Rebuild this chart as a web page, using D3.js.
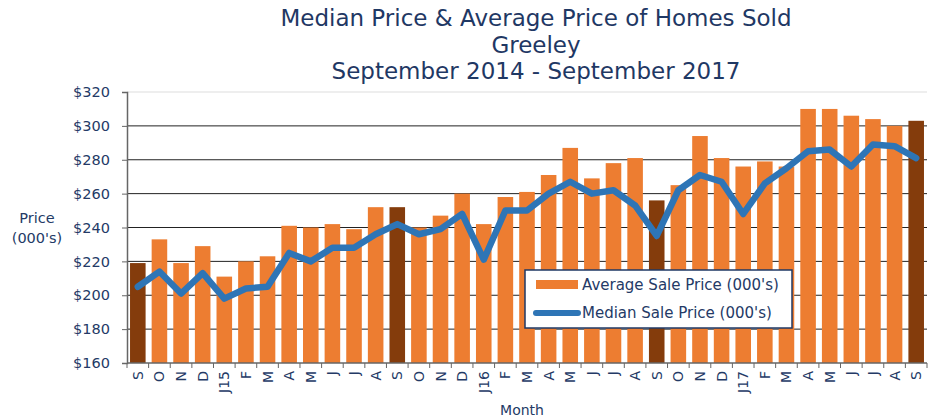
<!DOCTYPE html>
<html>
<head>
<meta charset="utf-8">
<style>
  body { margin: 0; background: #fff; }
  text { font-family: Verdana, "DejaVu Sans", sans-serif; fill: #243a66; }
</style>
</head>
<body>
<svg width="939" height="419"></svg>
<script src="https://d3js.org/d3.v7.min.js"></script>
<script>
// month labels, Sep 2014 .. Sep 2017
const months = ['S','O','N','D','J15','F','M','A','M','J','J','A',
                'S','O','N','D','J16','F','M','A','M','J','J','A',
                'S','O','N','D','J17','F','M','A','M','J','J','A','S'];
// average sale price (000's)
const avgPrice = [219,233,219,229,211,220,223,241,240,242,239,252,
                  252,240,247,260,242,258,261,271,287,269,278,281,
                  256,265,294,281,276,279,276,310,310,306,304,300,303];
// median sale price (000's)
const medPrice = [205,214,201,213,198,204,205,225,220,228,228,236,
                  242,236,239,248,221,250,250,260,267,260,262,253,
                  235,262,271,267,248,266,275,285,286,276,289,288,281];
const yTicks = [160,180,200,220,240,260,280,300,320];
const titleLines = ['Median Price & Average Price of Homes Sold', 'Greeley', 'September 2014 - September 2017'];

const margin = {top: 92, right: 12, bottom: 56, left: 127};
const width = 939 - margin.left - margin.right;
const height = 419 - margin.top - margin.bottom;

const svg = d3.select('svg');
const idx = months.map((d, i) => i);
const x = d3.scaleBand().domain(idx).range([0, width]).paddingInner(0.28).paddingOuter(0.14);
const y = d3.scaleLinear().domain([160, 320]).range([height, 0]);

const chart = svg.append('g').attr('transform', 'translate(' + margin.left + ',' + margin.top + ')');

// gridlines
chart.selectAll('.grid').data(yTicks.slice(1)).enter()
  .append('line')
  .attr('x1', 0).attr('x2', width)
  .attr('y1', d => y(d)).attr('y2', d => y(d))
  .attr('stroke', d => d === 320 ? '#ddd' : '#222')
  .attr('stroke-width', 1);

// bars
chart.selectAll('.bar').data(avgPrice).enter()
  .append('rect')
  .attr('x', (d, i) => x(i))
  .attr('width', x.bandwidth())
  .attr('y', d => y(d))
  .attr('height', d => height - y(d))
  .attr('fill', (d, i) => months[i] === 'S' ? '#843c0c' : '#ed7d31');

// median line
const line = d3.line().x((d, i) => x(i) + x.bandwidth() / 2).y(d => y(d));
chart.append('path').datum(medPrice)
  .attr('fill', 'none')
  .attr('stroke', '#2e75b6')
  .attr('stroke-width', 6.5)
  .attr('stroke-linejoin', 'round')
  .attr('stroke-linecap', 'round')
  .attr('d', line);

// y axis
const yAxis = chart.append('g').call(d3.axisLeft(y).tickValues(yTicks).tickFormat(d => '$' + d).tickSize(5).tickPadding(12));
yAxis.select('.domain').attr('stroke', '#666').attr('stroke-width', 1.5);
yAxis.selectAll('.tick line').attr('stroke', '#666');
yAxis.selectAll('text').attr('font-size', 14.5).style('fill', '#243a66');

// x axis
const xg = chart.append('g').attr('transform', 'translate(0,' + height + ')');
xg.append('line').attr('x1', 0).attr('x2', width).attr('stroke', '#666').attr('stroke-width', 1.5);
const step = x.step();
xg.selectAll('.xt').data(d3.range(months.length + 1)).enter()
  .append('line')
  .attr('x1', i => i * width / months.length)
  .attr('x2', i => i * width / months.length)
  .attr('y1', 0).attr('y2', 5)
  .attr('stroke', '#666');
xg.selectAll('.xl').data(months).enter()
  .append('text')
  .attr('transform', (d, i) => 'translate(' + (x(i) + x.bandwidth() / 2 + 5) + ',8) rotate(-90)')
  .attr('text-anchor', 'end')
  .attr('font-size', 14)
  .text(d => d);

// axis titles
svg.append('text').attr('x', 522).attr('y', 415).attr('text-anchor', 'middle').attr('font-size', 14).text('Month');
svg.append('text').attr('x', 37).attr('y', 223).attr('text-anchor', 'middle').attr('font-size', 14.5).text('Price');
svg.append('text').attr('x', 37).attr('y', 243).attr('text-anchor', 'middle').attr('font-size', 14.5).text("(000's)");

// title
svg.selectAll('.title').data(titleLines).enter()
  .append('text')
  .attr('x', 536)
  .attr('y', (d, i) => 26 + i * 26.5)
  .attr('text-anchor', 'middle')
  .attr('font-size', 23)
  .attr('font-family', '"DejaVu Sans Condensed", "DejaVu Sans", sans-serif')
  .style('fill', '#1f3864')
  .text(d => d);

// legend
const lg = svg.append('g').attr('transform', 'translate(525,270)');
lg.append('rect').attr('width', 267).attr('height', 58)
  .attr('fill', '#fff').attr('stroke', '#1f3864').attr('stroke-width', 1.5);
lg.append('rect').attr('x', 11).attr('y', 10).attr('width', 42).attr('height', 9).attr('fill', '#ed7d31');
lg.append('text').attr('x', 57).attr('y', 20).attr('font-size', 15).text("Average Sale Price (000's)");
lg.append('line').attr('x1', 11).attr('x2', 53).attr('y1', 43).attr('y2', 43)
  .attr('stroke', '#2e75b6').attr('stroke-width', 6).attr('stroke-linecap', 'round');
lg.append('text').attr('x', 57).attr('y', 48).attr('font-size', 15).text("Median Sale Price (000's)");
</script>
</body>
</html>
